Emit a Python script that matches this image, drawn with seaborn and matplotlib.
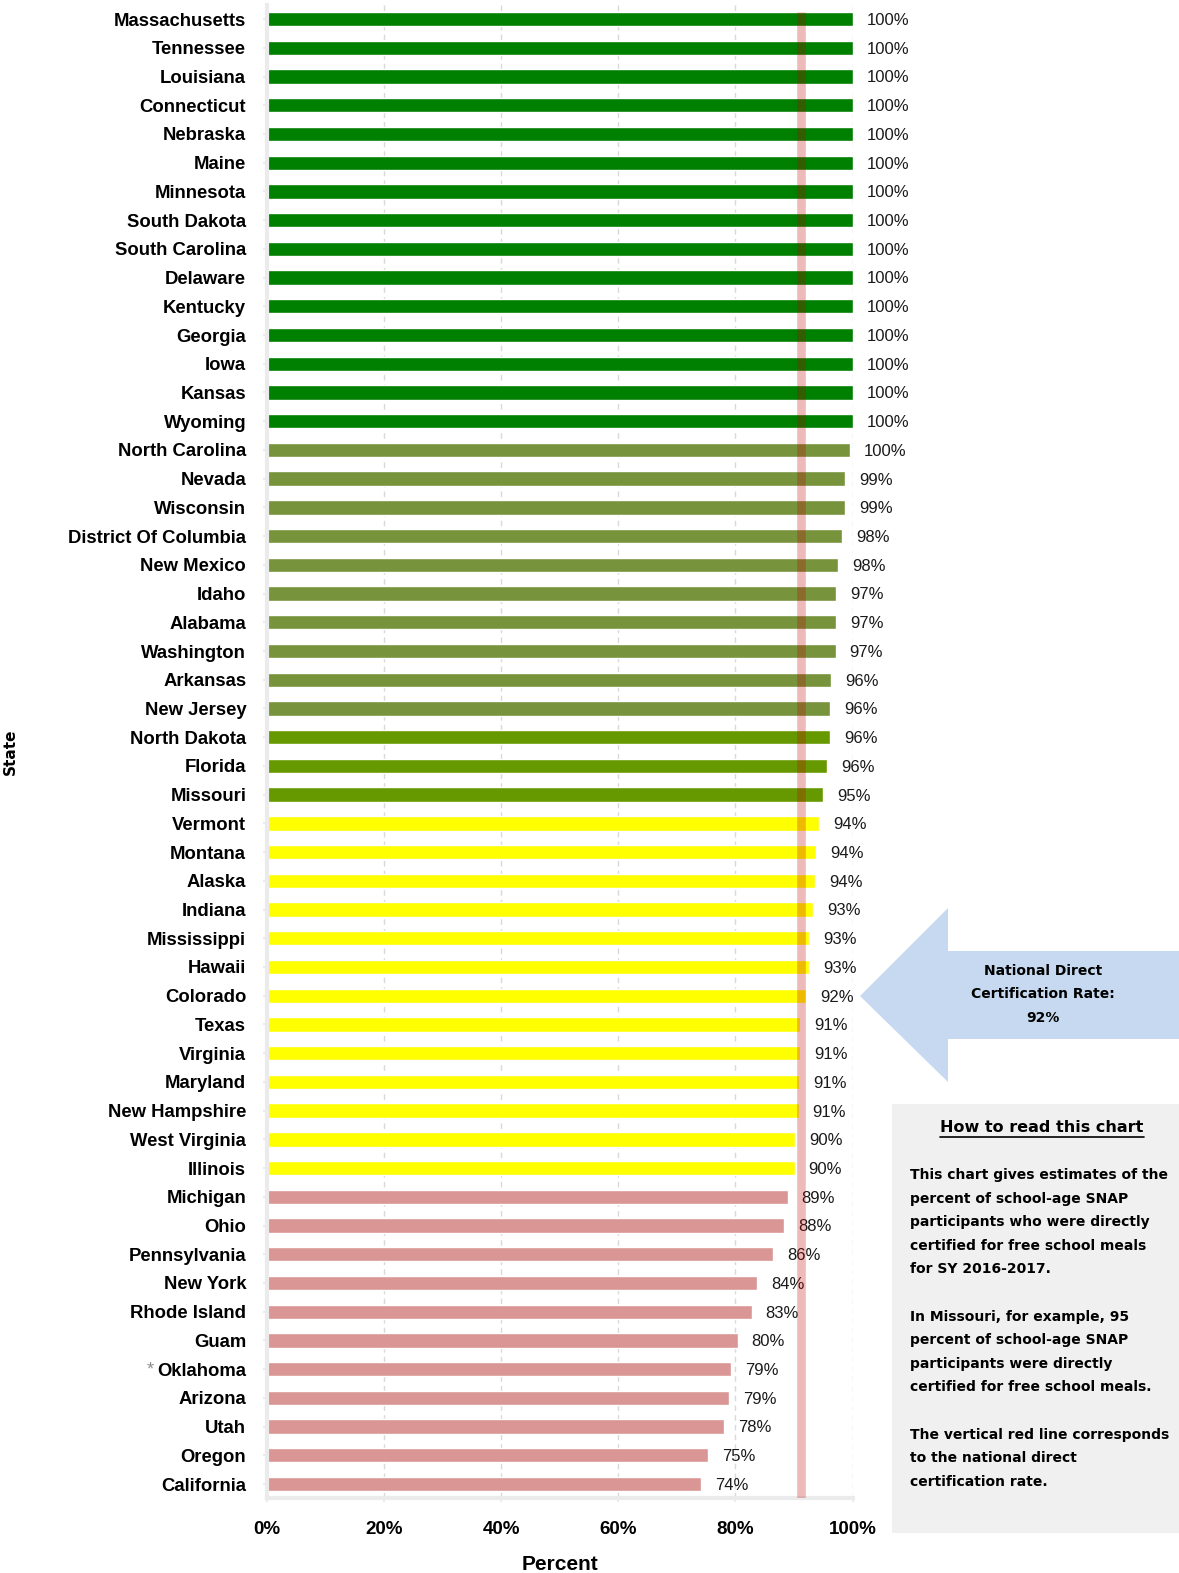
import matplotlib
matplotlib.use('Agg')
import matplotlib.pyplot as plt
import seaborn as sns
import pandas as pd
from matplotlib.patches import Polygon, Rectangle
from matplotlib.lines import Line2D

# ---------------- data ----------------
states = [
    "Massachusetts", "Tennessee", "Louisiana", "Connecticut", "Nebraska", "Maine",
    "Minnesota", "South Dakota", "South Carolina", "Delaware", "Kentucky", "Georgia",
    "Iowa", "Kansas", "Wyoming", "North Carolina", "Nevada", "Wisconsin",
    "District Of Columbia", "New Mexico", "Idaho", "Alabama", "Washington", "Arkansas",
    "New Jersey", "North Dakota", "Florida", "Missouri", "Vermont", "Montana", "Alaska",
    "Indiana", "Mississippi", "Hawaii", "Colorado", "Texas", "Virginia", "Maryland",
    "New Hampshire", "West Virginia", "Illinois", "Michigan", "Ohio", "Pennsylvania",
    "New York", "Rhode Island", "Guam", "Oklahoma", "Arizona", "Utah", "Oregon",
    "California",
]
values = [
    100, 100, 100, 100, 100, 100, 100, 100, 100, 100, 100, 100, 100, 100, 100,
    99.6, 98.7, 98.7, 98.2, 97.6, 97.2, 97.2, 97.1, 96.4, 96.2,
    96.2, 95.7, 95.0,
    94.3, 93.8, 93.6, 93.3, 92.6, 92.6, 92.1, 91.1, 91.1, 90.9, 90.8, 90.2, 90.1,
    88.9, 88.3, 86.4, 83.7, 82.8, 80.4, 79.3, 78.9, 78.1, 75.4, 74.1,
]
tiers = (["dark"] * 15 + ["olive"] * 10 + ["lime"] * 3 + ["yellow"] * 13 + ["pink"] * 11)
tier_colors = {"dark": "#008000", "olive": "#77933C", "lime": "#669900",
               "yellow": "#FFFF00", "pink": "#D99694"}
starred = ["Oklahoma"]
national_line = 91.2
national_text = "National Direct\nCertification Rate:\n92%"
x_ticks = [0, 20, 40, 60, 80, 100]
x_tick_labels = ["0%", "20%", "40%", "60%", "80%", "100%"]
box_title = "How to read this chart"
box_lines = [
    "This chart gives estimates of the",
    "percent of school-age SNAP",
    "participants who were directly",
    "certified for free school meals",
    "for SY 2016-2017.",
    "",
    "In Missouri, for example, 95",
    "percent of school-age SNAP",
    "participants were directly",
    "certified for free school meals.",
    "",
    "The vertical red line corresponds",
    "to the national direct",
    "certification rate.",
]

# ---------------- figure ----------------
sns.set_theme(style="white")
plt.rcParams['font.family'] = ['Liberation Sans', 'DejaVu Sans']

W, H = 1179, 1573
fig = plt.figure(figsize=(W / 100, H / 100), dpi=100)
fig.patch.set_facecolor("white")


def fx(px):
    return px / W


def fy(py):
    return 1 - py / H


ax_top, ax_bot = 4.7, 1498.4
ax = fig.add_axes([fx(267), fy(ax_bot), 585.5 / W, (ax_bot - ax_top) / H])

df = pd.DataFrame({"state": states, "value": values})
palette = [tier_colors[t] for t in tiers]
sns.barplot(data=df, x="value", y="state", hue="state", palette=palette,
            legend=False, width=0.5, orient="h", ax=ax, saturation=1)

n = len(states)
ax.set_xlim(0, 100)
ax.set_ylim(n - 0.5, -0.5)
ax.set_xticks(x_ticks)
ax.set_xticklabels(x_tick_labels, fontweight="bold", fontsize=13.5)
for lab in ax.get_yticklabels():
    lab.set_fontweight("bold")
    lab.set_fontsize(13.3)
    lab.set_color("black")
ax.xaxis.grid(True, color="#D9D9D9", linestyle=(0, (4, 3)), linewidth=1)
ax.yaxis.grid(False)
ax.set_axisbelow(True)

for s in ["top", "right"]:
    ax.spines[s].set_visible(False)
for s in ["left", "bottom"]:
    ax.spines[s].set_color("#EBEBEB")
    ax.spines[s].set_linewidth(3)
ax.tick_params(axis="y", left=True, length=3, width=1.5, color="#EBEBEB", pad=12)
ax.tick_params(axis="x", bottom=True, length=3, width=1.5, color="#EBEBEB", pad=13.5,
               labelcolor="black")

# national rate line
ax.vlines(national_line, -0.25, n - 0.5, colors="#C00000", alpha=0.27,
          linewidth=6.2, zorder=5)

# value labels
for i, v in enumerate(values):
    ax.annotate(f"{v:.0f}%", (v, i), xytext=(10, -1), textcoords="offset points",
                va="center", ha="left", fontsize=12, color="#1a1a1a")

ax.set_xlabel("Percent", fontweight="bold", fontsize=15, labelpad=12, color="black")
ax.set_ylabel("State", fontweight="bold", fontsize=11, family=["DejaVu Sans"],
              color="black")
ax.yaxis.set_label_coords((18 - 267) / 585.5, 0.5)

# arrow callout
arrow_pts = [(860, 996), (948, 908), (948, 951), (1179, 951), (1179, 1039),
             (948, 1039), (948, 1082)]
fig.add_artist(Polygon([(fx(x), fy(y)) for x, y in arrow_pts], closed=True,
                       transform=fig.transFigure, facecolor="#C6D9F0",
                       edgecolor="none"))
for k, line in enumerate(national_text.split("\n")):
    fig.text(fx(1043), fy(970.5 + 23.6 * k), line, ha="center", va="center",
             fontsize=10, fontweight="bold", family=["DejaVu Sans"], color="black")

# how-to-read box
fig.add_artist(Rectangle((fx(892), fy(1533)), (W - 892) / W, (1533 - 1104) / H,
                         transform=fig.transFigure, facecolor="#F0F0F0",
                         edgecolor="none"))
title = fig.text(fx(1042), fy(1128), box_title, ha="center", va="center",
                 fontsize=11.5, fontweight="bold", family=["DejaVu Sans"],
                 color="black")
for k, line in enumerate(box_lines):
    if line:
        fig.text(fx(910), fy(1175 + 23.6 * k), line, ha="left", va="center",
                 fontsize=10, fontweight="bold", family=["DejaVu Sans"],
                 color="black")

fig.canvas.draw()
renderer = fig.canvas.get_renderer()
bb = title.get_window_extent(renderer)
uy = (bb.y0 - 1.5) / H
fig.add_artist(Line2D([bb.x0 / W, bb.x1 / W], [uy, uy], transform=fig.transFigure,
                      color="black", linewidth=1.2))

for lab in ax.get_yticklabels():
    if lab.get_text() in starred:
        lb = lab.get_window_extent(renderer)
        fig.text((lb.x0 - 3) / W, (lb.y0 + lb.y1) / 2 / H + 1.5 / H, "*",
                 ha="right", va="center", fontsize=13, color="#8C8C8C")

fig.savefig("out.png", dpi=100)
